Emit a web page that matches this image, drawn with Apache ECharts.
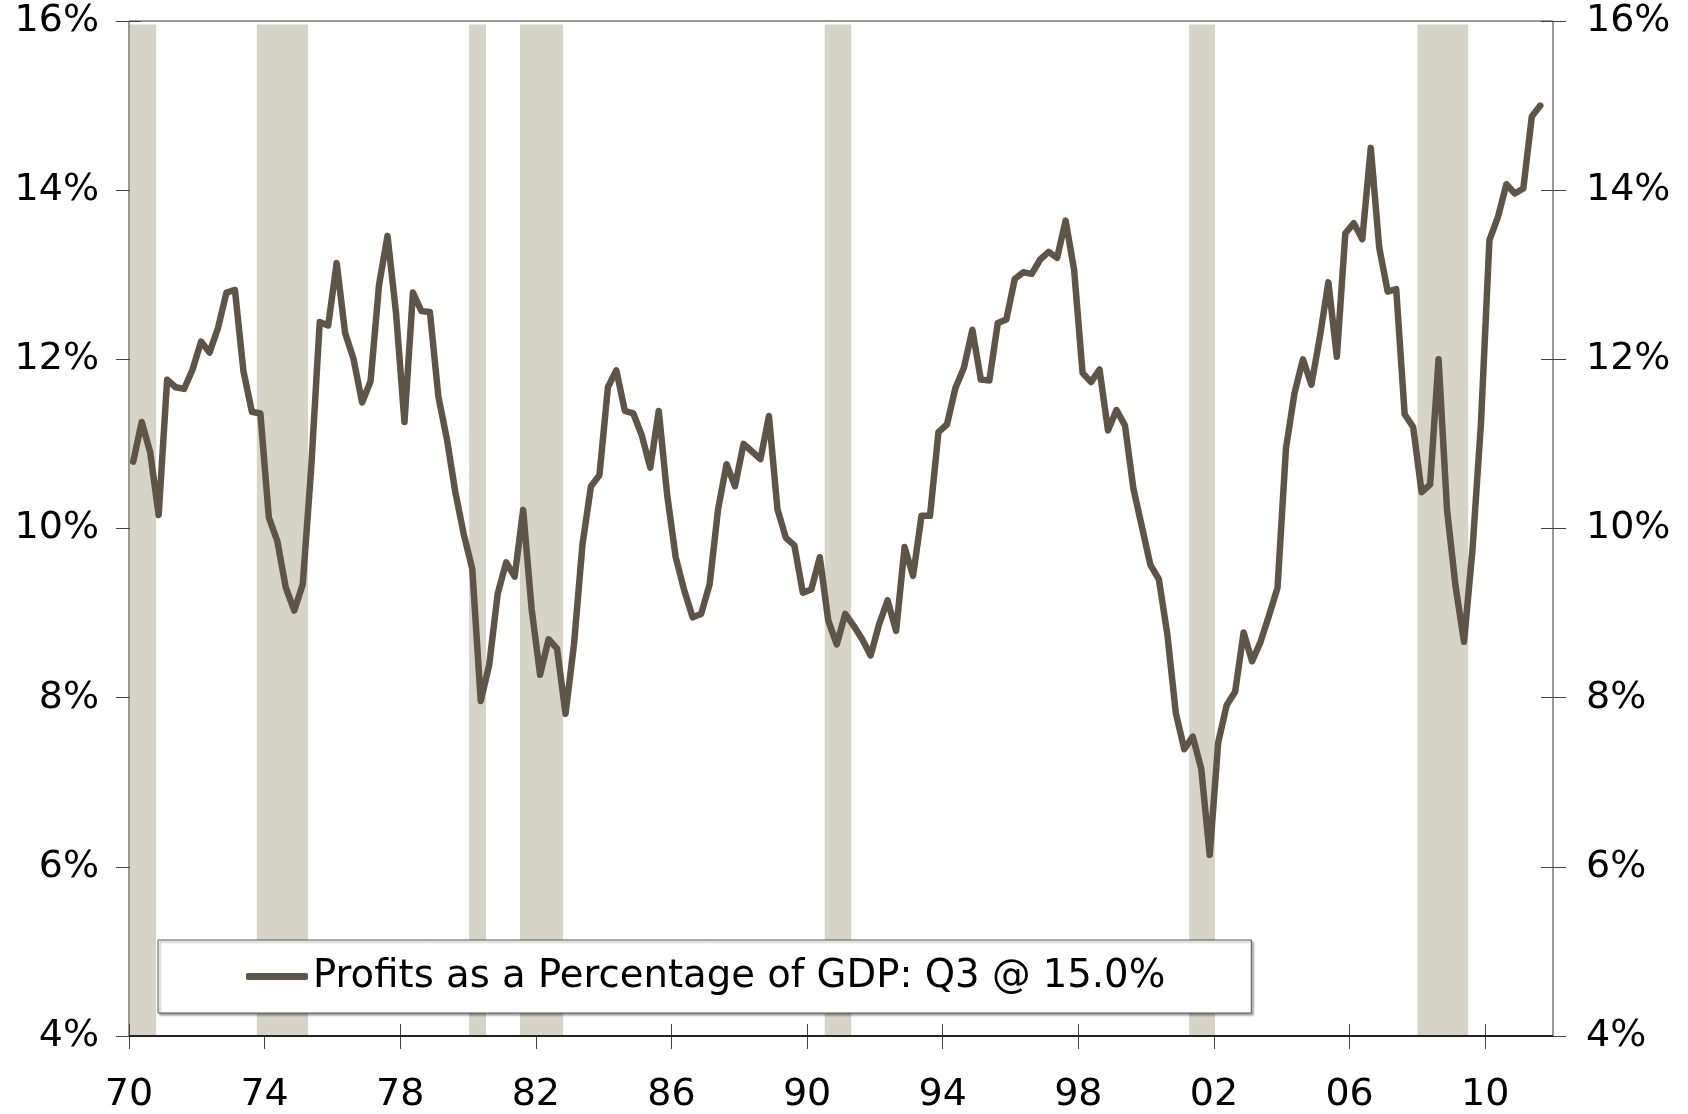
<!DOCTYPE html>
<html>
<head>
<meta charset="utf-8">
<script src="https://cdn.jsdelivr.net/npm/echarts@6/dist/echarts.min.js"></script>
<style>
html,body{margin:0;padding:0;background:#ffffff;}
#chart{width:1688px;height:1114px;}
</style>
</head>
<body>
<div id="chart"></div>
<script>
// ---- DATA ----
const seriesName = 'Profits as a Percentage of GDP: Q3 @ 15.0%';
const firstYear = 1970;           // first observation = 1970 Q1, quarterly
const profitShare = [
  10.79, 11.26, 10.90, 10.16, 11.76, 11.67, 11.65, 11.88, 12.21, 12.08,
  12.37, 12.79, 12.82, 11.86, 11.38, 11.36, 10.13, 9.85, 9.30, 9.03,
  9.34, 10.72, 12.44, 12.40, 13.14, 12.31, 12.00, 11.49, 11.74, 12.88,
  13.46, 12.55, 11.26, 12.79, 12.57, 12.56, 11.56, 11.06, 10.43, 9.93,
  9.52, 7.96, 8.39, 9.23, 9.60, 9.43, 10.22, 9.05, 8.27, 8.69,
  8.58, 7.81, 8.63, 9.81, 10.50, 10.63, 11.67, 11.87, 11.39, 11.36,
  11.10, 10.72, 11.39, 10.39, 9.66, 9.27, 8.95, 8.99, 9.34, 10.23,
  10.76, 10.50, 11.00, 10.91, 10.82, 11.33, 10.23, 9.89, 9.80, 9.24,
  9.28, 9.66, 8.91, 8.63, 8.99, 8.85, 8.69, 8.50, 8.87, 9.15,
  8.79, 9.78, 9.44, 10.15, 10.15, 11.14, 11.23, 11.66, 11.90, 12.35,
  11.76, 11.75, 12.43, 12.47, 12.95, 13.03, 13.01, 13.18, 13.27, 13.20,
  13.64, 13.06, 11.84, 11.73, 11.88, 11.16, 11.40, 11.22, 10.47, 10.02,
  9.57, 9.40, 8.75, 7.82, 7.39, 7.54, 7.16, 6.14, 7.47, 7.91,
  8.07, 8.77, 8.43, 8.66, 8.97, 9.30, 10.95, 11.60, 12.00, 11.70,
  12.27, 12.91, 12.03, 13.49, 13.61, 13.42, 14.50, 13.32, 12.80, 12.83,
  11.35, 11.20, 10.43, 10.52, 12.00, 10.22, 9.32, 8.66, 9.75, 11.24,
  13.41, 13.68, 14.07, 13.96, 14.02, 14.87, 15.00
];
// recession periods (start, end) in fractional years
const recessions = [
  [1970.03, 1970.80], [1973.77, 1975.28], [1980.03, 1980.53], [1981.53, 1982.80],
  [1990.52, 1991.30], [2001.27, 2002.03], [2008.00, 2009.50]
];
const xTickYears = [1970, 1974, 1978, 1982, 1986, 1990, 1994, 1998, 2002, 2006, 2010];

// ---- BUILD ----
// each quarter plotted at its mid-point
const lineData = profitShare.map((v, i) => [firstYear + 0.125 + 0.25 * i, v]);
const areaData = recessions.map(r => [{ xAxis: r[0], yAxis: 4 }, { xAxis: r[1], yAxis: 15.96 }]);

const FONT = '"DejaVu Sans", Verdana, sans-serif';
const LINE_COLOR = '#5f5448';
const yLabel = v => v + '%';
const xLabel = v => String(Math.round(v) % 100).padStart(2, '0');

const chart = echarts.init(document.getElementById('chart'), null, { renderer: 'canvas' });
chart.setOption({
  animation: false,
  backgroundColor: '#ffffff',
  grid: {
    left: 129, right: 135, top: 21, bottom: 77,
    show: true, borderColor: '#333333', borderWidth: 1, backgroundColor: 'transparent'
  },
  legend: {
    left: 158, top: 940,
    orient: 'horizontal',
    padding: [17, 86, 17, 88],
    backgroundColor: '#ffffff',
    borderColor: '#555555', borderWidth: 1,
    shadowColor: 'rgba(0,0,0,0.35)', shadowOffsetX: 2, shadowOffsetY: 2, shadowBlur: 2,
    icon: 'roundRect', itemWidth: 62, itemHeight: 7,
    textStyle: { fontFamily: FONT, fontSize: 38.6, color: '#000000' },
    data: [seriesName]
  },
  xAxis: {
    type: 'value', min: 1970, max: 2012, position: 'bottom', offset: -12,
    axisLine: { show: false },
    axisTick: { show: true, length: 25, customValues: xTickYears, lineStyle: { color: '#444444', width: 1 } },
    axisLabel: { customValues: xTickYears, formatter: xLabel, margin: 52,
      fontFamily: FONT, fontSize: 38, color: '#000000' },
    splitLine: { show: false }
  },
  yAxis: [
    {
      type: 'value', min: 4, max: 16, interval: 2, position: 'left', offset: -12,
      axisLine: { show: false },
      axisTick: { show: true, length: 25, lineStyle: { color: '#444444', width: 1 } },
      axisLabel: { formatter: yLabel, margin: 42, fontFamily: FONT, fontSize: 38, color: '#000000' },
      splitLine: { show: false }
    },
    {
      type: 'value', min: 4, max: 16, interval: 2, position: 'right', offset: -12,
      axisLine: { show: false },
      axisTick: { show: true, length: 25, lineStyle: { color: '#444444', width: 1 } },
      axisLabel: { formatter: yLabel, margin: 45, fontFamily: FONT, fontSize: 38, color: '#000000' },
      splitLine: { show: false }
    }
  ],
  series: [
    {
      name: 'Recessions', type: 'line', data: [], z: 1, silent: true,
      markArea: { silent: true, itemStyle: { color: '#d6d3c7' }, data: areaData }
    },
    {
      name: 'baseline', type: 'line', data: [], z: 4, silent: true,
      markLine: { silent: true, symbol: 'none', label: { show: false },
        lineStyle: { color: '#222222', width: 2, type: 'solid' },
        data: [{ yAxis: 4 }] }
    },
    {
      name: seriesName, type: 'line', data: lineData, z: 3,
      showSymbol: false, symbol: 'none',
      color: LINE_COLOR,
      lineStyle: { color: LINE_COLOR, width: 6.5, join: 'round', cap: 'round' }
    }
  ]
});
</script>
</body>
</html>
